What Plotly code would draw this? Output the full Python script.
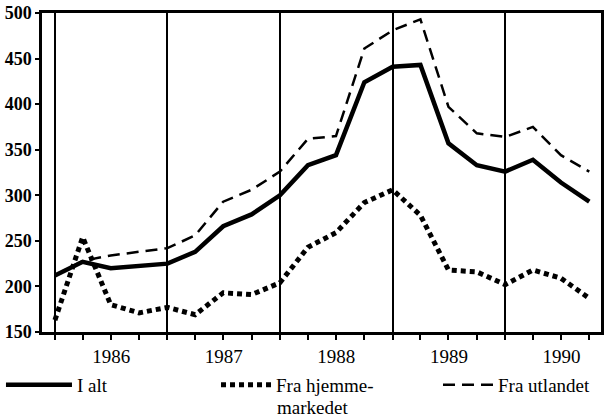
import plotly.graph_objects as go

quarters = [
    "1986-01-01", "1986-04-01", "1986-07-01", "1986-10-01",
    "1987-01-01", "1987-04-01", "1987-07-01", "1987-10-01",
    "1988-01-01", "1988-04-01", "1988-07-01", "1988-10-01",
    "1989-01-01", "1989-04-01", "1989-07-01", "1989-10-01",
    "1990-01-01", "1990-04-01", "1990-07-01", "1990-10-01",
]
i_alt = [212, 227, 220, 222, 225, 238, 266, 279, 300, 333, 344, 424,
         441, 443, 357, 333, 326, 339, 314, 293]
fra_hjemme = [163, 254, 180, 171, 177, 169, 193, 191, 204, 243, 259, 292,
              306, 278, 218, 216, 202, 218, 209, 187]
fra_utland = [212, 228, 234, 238, 242, 256, 293, 306, 326, 362, 365, 461,
              481, 493, 397, 368, 364, 375, 344, 326]

names = ["I alt", "Fra hjemme-", "Fra utlandet"]
name2_line2 = "markedet"
y_ticks = [150, 200, 250, 300, 350, 400, 450, 500]

FONT = "Liberation Serif"

fig = go.Figure()
fig.add_trace(go.Scatter(x=quarters, y=i_alt, name=names[0], mode="lines",
                         legend="legend",
                         line=dict(color="black", width=4.5)))
fig.add_trace(go.Scatter(x=quarters, y=fra_hjemme, name=names[1], mode="lines",
                         legend="legend2",
                         line=dict(color="black", width=5, dash="5px,4px")))
fig.add_trace(go.Scatter(x=quarters, y=fra_utland, name=names[2], mode="lines",
                         legend="legend3",
                         line=dict(color="black", width=2.5, dash="12px,7px")))

leg_common = dict(orientation="h", xref="container", yref="container",
                  y=0.1286, xanchor="left", yanchor="top",
                  font=dict(family=FONT, size=19, color="black"),
                  bgcolor="rgba(0,0,0,0)")

fig.update_layout(
    width=609, height=420,
    margin=dict(l=42, r=8, t=13, b=88, autoexpand=False),
    paper_bgcolor="white", plot_bgcolor="white",
    showlegend=True,
    legend=dict(leg_common, x=0.0016, itemwidth=66),
    legend2=dict(leg_common, x=0.3547, itemwidth=50),
    legend3=dict(leg_common, x=0.7192, itemwidth=50),
    xaxis=dict(
        type="date", automargin=False,
        range=["1985-11-20", "1990-11-08"],
        tick0="1986-01-01", dtick="M12", tickformat="%Y",
        ticklabelmode="period",
        showgrid=True, gridcolor="black", gridwidth=2,
        ticks="outside", ticklen=5, tickwidth=2, tickcolor="black",
        minor=dict(dtick="M3", tick0="1986-01-01", ticks="outside",
                   ticklen=5, tickwidth=2, tickcolor="black", showgrid=False),
        showline=True, linecolor="black", linewidth=2.5, mirror=True,
        tickfont=dict(family=FONT, size=19, color="black"),
        zeroline=False,
    ),
    yaxis=dict(
        range=[150, 500], tickvals=y_ticks, automargin=False,
        showgrid=False, zeroline=False,
        ticks="outside", ticklen=4, tickwidth=2, tickcolor="black",
        showline=True, linecolor="black", linewidth=2.5, mirror=True,
        tickfont=dict(family=FONT, size=18, color="black", weight="bold"),
        ticklabelstandoff=0,
    ),
    annotations=[dict(
        text=name2_line2, xref="paper", yref="paper",
        x=0.4168, y=-0.2382, xanchor="left", yanchor="middle",
        showarrow=False, font=dict(family=FONT, size=19, color="black"),
    )],
)

fig.write_html("out.html", config={"displayModeBar": False},
               post_script="document.body.style.margin='0px';")
